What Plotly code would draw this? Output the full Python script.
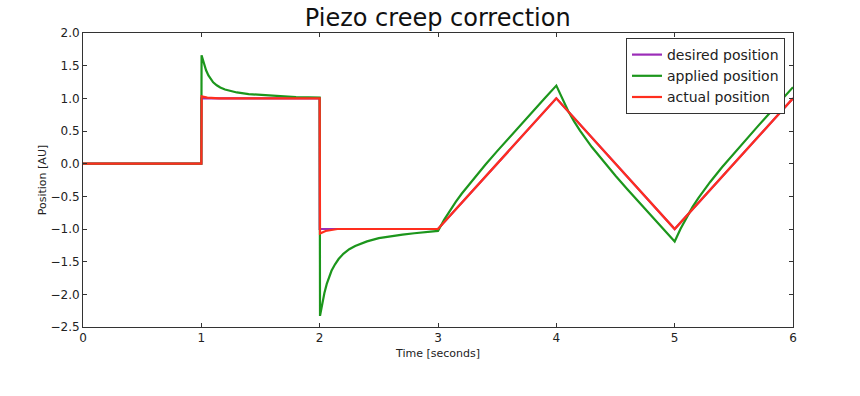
import plotly.graph_objects as go

# ---- data ----
desired_t = [0.0, 1.0, 1.0, 2.0, 2.0, 3.0, 4.0, 5.0, 6.0]
desired_y = [0.0, 0.0, 1.0, 1.0, -1.0, -1.0, 1.0, -1.0, 1.0]

applied_t = [0.0, 1.0, 1.002, 1.02, 1.04, 1.06, 1.08, 1.10, 1.13, 1.16, 1.20, 1.25, 1.30, 1.40,
             1.50, 1.60, 1.70, 1.80, 1.90, 2.0,
             2.003, 2.02, 2.04, 2.06, 2.08, 2.10, 2.13, 2.16, 2.20, 2.25, 2.30, 2.35, 2.40,
             2.50, 2.60, 2.70, 2.80, 2.90, 3.0,
             3.05, 3.10, 3.15, 3.20, 3.30, 3.40, 3.50, 3.60, 3.70, 3.80, 3.90, 4.0,
             4.05, 4.10, 4.15, 4.20, 4.30, 4.40, 4.50, 4.60, 4.70, 4.80, 4.90, 5.0,
             5.05, 5.10, 5.15, 5.20, 5.30, 5.40, 5.50, 5.60, 5.70, 5.80, 5.90, 6.0]
applied_y = [0.0, 0.0, 1.66, 1.53, 1.43, 1.35, 1.29, 1.245, 1.20, 1.165, 1.135, 1.11, 1.09, 1.065,
             1.05, 1.04, 1.03, 1.02, 1.015, 1.01,
             -2.33, -2.15, -1.98, -1.84, -1.73, -1.64, -1.54, -1.46, -1.38, -1.31, -1.26, -1.22, -1.19,
             -1.14, -1.11, -1.085, -1.065, -1.05, -1.03,
             -0.865, -0.718, -0.585, -0.461, -0.231, -0.016, 0.192, 0.396, 0.598, 0.799, 0.999, 1.195,
             0.987, 0.805, 0.647, 0.505, 0.254, 0.028, -0.186, -0.393, -0.596, -0.798, -0.995, -1.19,
             -0.995, -0.82, -0.666, -0.527, -0.28, -0.056, 0.157, 0.363, 0.567, 0.768, 0.969, 1.17]

actual_t = [0.0, 1.0, 1.003, 1.05, 1.15, 2.0, 2.003, 2.05, 2.15, 3.0, 4.0, 5.0, 6.0]
actual_y = [0.0, 0.0, 1.03, 1.01, 1.0, 1.0, -1.07, -1.03, -1.0, -1.0, 1.0, -1.0, 1.0]

x_ticks = [0, 1, 2, 3, 4, 5, 6]
y_ticks = [2.0, 1.5, 1.0, 0.5, 0.0, -0.5, -1.0, -1.5, -2.0, -2.5]

FONT = "DejaVu Sans"

fig = go.Figure()
fig.add_trace(go.Scatter(x=desired_t, y=desired_y, mode="lines", name="desired position",
                         line=dict(color="#9b2cb8", width=2.2)))
fig.add_trace(go.Scatter(x=applied_t, y=applied_y, mode="lines", name="applied position",
                         line=dict(color="#1c961c", width=2.2)))
fig.add_trace(go.Scatter(x=actual_t, y=actual_y, mode="lines", name="actual position",
                         line=dict(color="#ff2e1e", width=2.2)))

axis_common = dict(showgrid=False, zeroline=False, showline=True, linecolor="#333333",
                   linewidth=1, mirror="ticks", ticks="inside", ticklen=4, tickcolor="#333333",
                   tickfont=dict(family=FONT, size=12, color="#222222"))

fig.update_xaxes(range=[0, 6], tickvals=x_ticks, ticktext=[str(v) for v in x_ticks],
                 title=dict(text="Time [seconds]", font=dict(family=FONT, size=11, color="#222222"),
                            standoff=4),
                 **axis_common)
fig.update_yaxes(range=[-2.5, 2.0], tickvals=y_ticks, tickformat=".1f",
                 title=dict(text="Position [AU]", font=dict(family=FONT, size=11, color="#222222"),
                            standoff=1),
                 **axis_common)

fig.update_layout(
    width=860, height=396,
    margin=dict(l=83, r=67, t=33, b=69),
    paper_bgcolor="white", plot_bgcolor="white",
    title=dict(text="Piezo creep correction", x=0.509, xanchor="center", y=0.955, yanchor="middle",
               font=dict(family=FONT, size=24, color="#111111")),
    showlegend=True,
    legend=dict(x=0.9887, xanchor="right", y=0.983, yanchor="top",
                bordercolor="#333333", borderwidth=1, bgcolor="white",
                font=dict(family=FONT, size=14, color="#222222"),
                traceorder="normal"),
)

fig.write_html("out.html", config={"displayModeBar": False},
               post_script="document.body.style.margin='0';")
